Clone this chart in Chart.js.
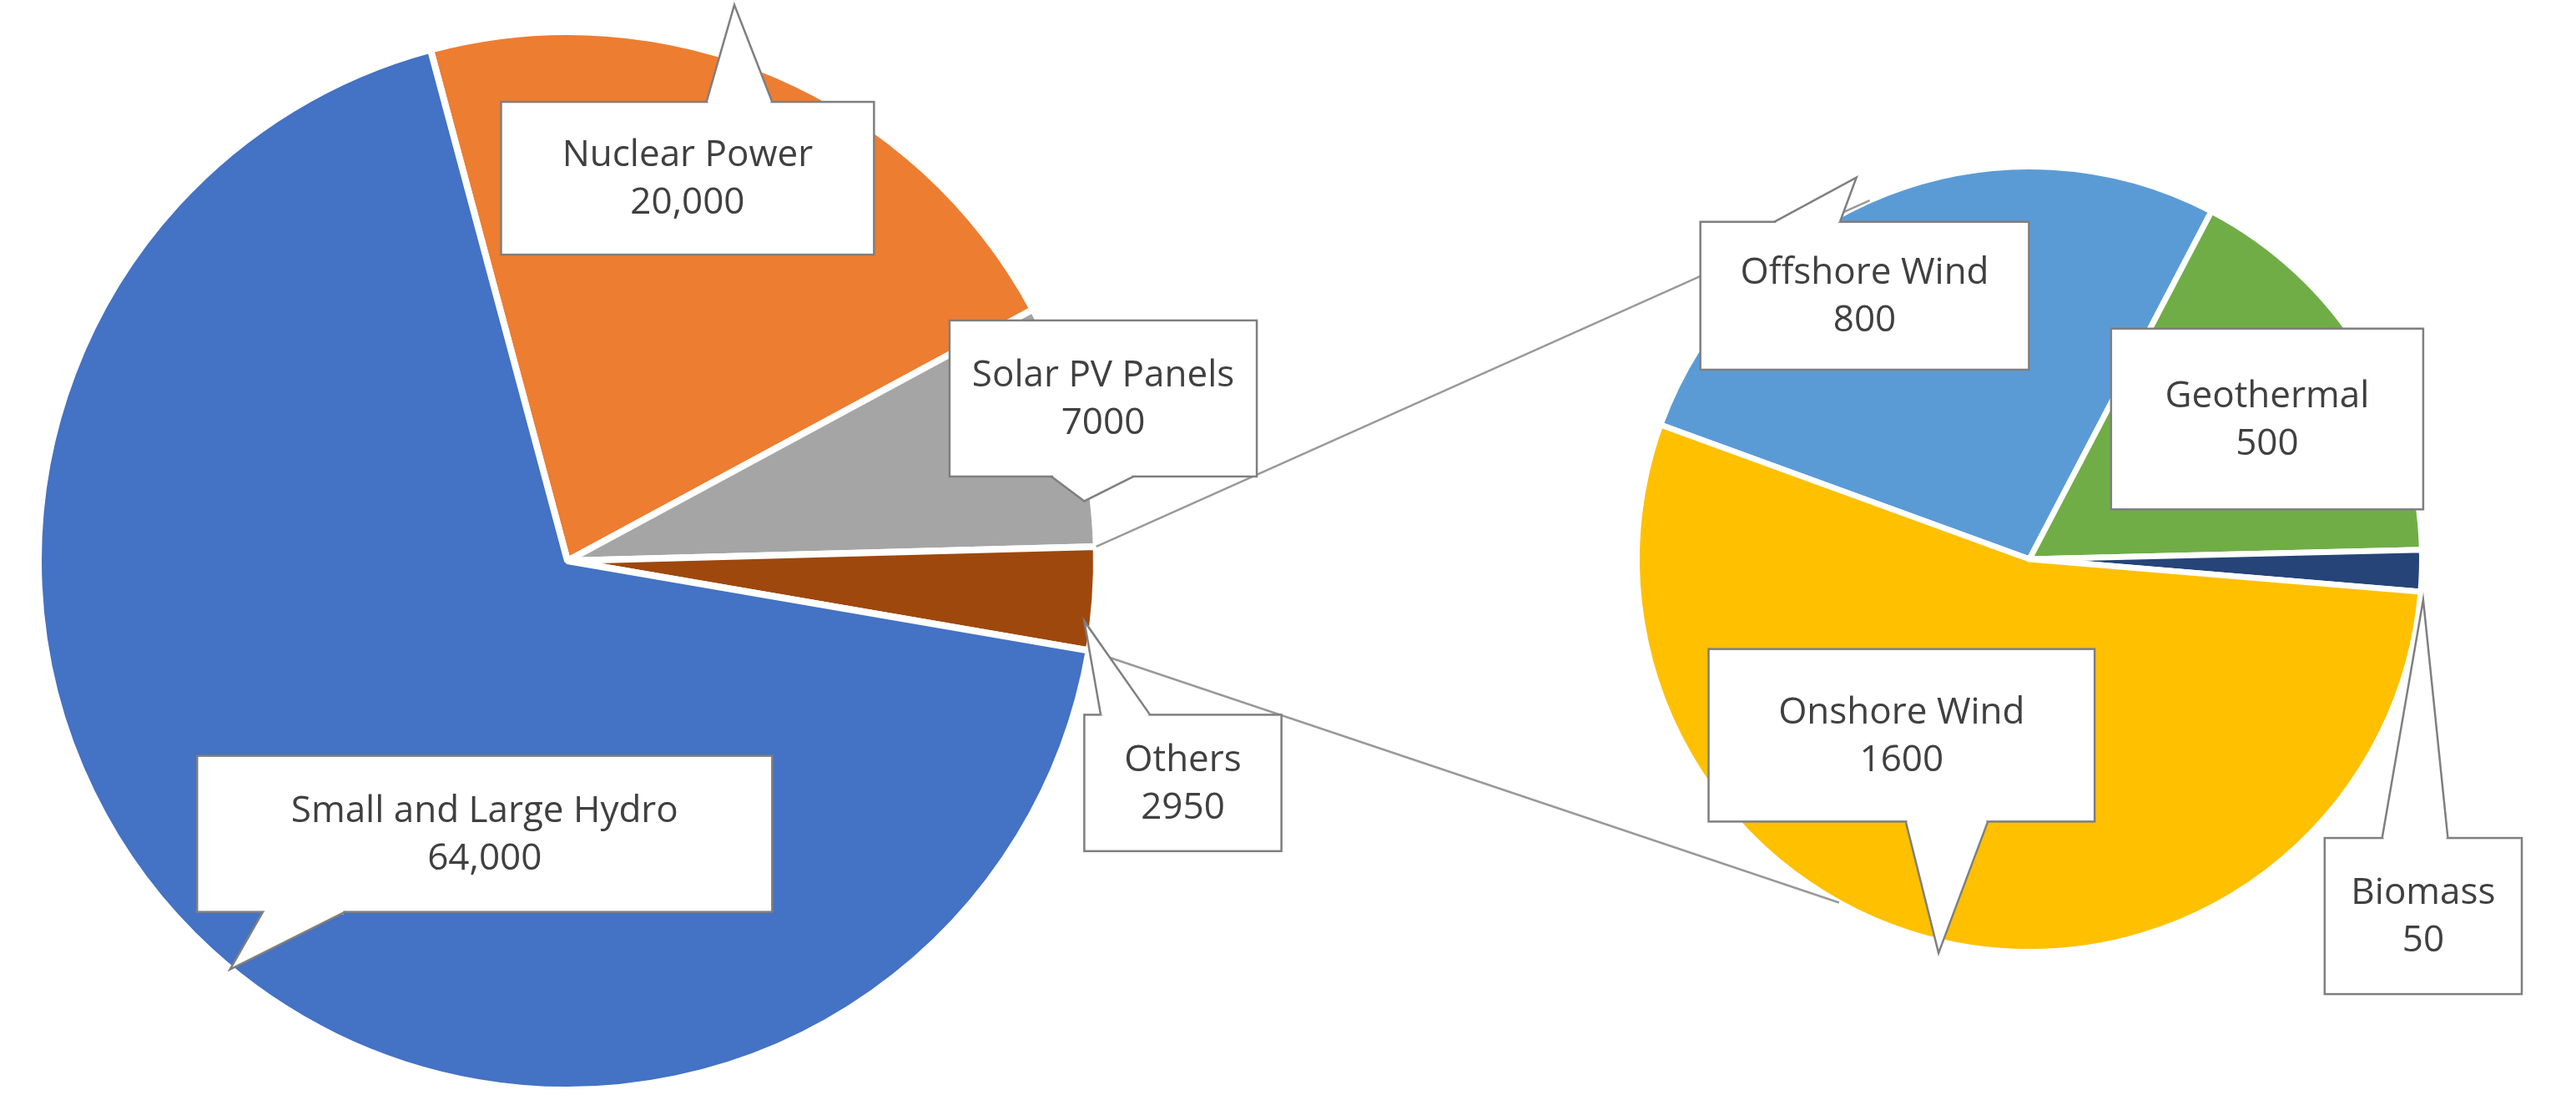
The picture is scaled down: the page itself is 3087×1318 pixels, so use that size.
<!DOCTYPE html>
<html><head><meta charset="utf-8">
<script src="https://cdn.jsdelivr.net/npm/chart.js@4/dist/chart.umd.min.js"></script>
<style>
body{margin:0;background:#fff;width:3087px;height:1318px;overflow:hidden;position:relative}
canvas{position:absolute}
</style></head><body>
<canvas id="main" width="1360" height="1318" style="left:0;top:0"></canvas>
<canvas id="sub" width="1000" height="1000" style="left:1932px;top:170px"></canvas>
<canvas id="over" width="3087" height="1318" style="left:0;top:0;pointer-events:none"></canvas>
<script>
// main pie
const mainLabels = ['Nuclear Power', 'Solar PV Panels', 'Others', 'Small and Large Hydro'];
const mainValues = [20000, 7000, 2950, 64000];
const mainText = ['20,000', '7000', '2950', '64,000'];
const mainColors = ['#ED7D31', '#A5A5A5', '#9E480E', '#4472C4'];
// breakdown of "Others"
const subLabels = ['Offshore Wind', 'Geothermal', 'Biomass', 'Onshore Wind'];
const subValues = [800, 500, 50, 1600];
const subColors = ['#5B9BD5', '#70AD47', '#264478', '#FFC000'];

const S = 3087 / 1568;
// callout boxes: [x1,y1,x2,y2, tipX,tipY, baseA, baseB] in reference units
const callouts = [
  {l: 'Nuclear Power', v: '20,000', b: [305, 62, 532, 155], tip: [447, 3], base: [[430, 62], [470, 62]]},
  {l: 'Solar PV Panels', v: '7000', b: [578, 195, 765, 290], tip: [660, 305], base: [[640, 290], [690, 290]]},
  {l: 'Others', v: '2950', b: [660, 435, 780, 518], tip: [660, 378], base: [[670, 435], [700, 435]]},
  {l: 'Small and Large Hydro', v: '64,000', b: [120, 460, 470, 555], tip: [140, 590], base: [[160, 555], [210, 555]]},
  {l: 'Offshore Wind', v: '800', b: [1035, 135, 1235, 225], tip: [1130, 108], base: [[1080, 135], [1120, 135]]},
  {l: 'Geothermal', v: '500', b: [1285, 200, 1475, 310], tip: null},
  {l: 'Onshore Wind', v: '1600', b: [1040, 395, 1275, 500], tip: [1180, 580], base: [[1160, 500], [1210, 500]]},
  {l: 'Biomass', v: '50', b: [1415, 510, 1535, 605], tip: [1475, 365], base: [[1450, 510], [1490, 510]]}
];

Chart.defaults.font.family = '"Open Sans", "Liberation Sans", sans-serif';

const mainChart = new Chart('main', {
  type: 'pie',
  data: {labels: mainLabels, datasets: [{data: mainValues, backgroundColor: mainColors, borderColor: '#fff', borderWidth: 8}]},
  options: {
    responsive: false, animation: false, devicePixelRatio: 1, rotation: -15,
    layout: {padding: {top: 34, bottom: 8, left: 30, right: 30}},
    plugins: {legend: {display: false}, tooltip: {enabled: false}}
  }
});

const overlay = {
  id: 'overlay',
  afterDraw(chart) {
    const ctx = document.getElementById('over').getContext('2d');
    ctx.clearRect(0, 0, 3087, 1318);
    // connector lines from the Others slice to the breakdown pie
    const arc = mainChart.getDatasetMeta(0).data[2];
    const sa = chart.getDatasetMeta(0).data[0];
    const cx = 1932 + sa.x, cy = 170 + sa.y, r = sa.outerRadius;
    const pts = [[arc.startAngle, -114], [arc.endAngle, 119]];
    ctx.strokeStyle = '#999'; ctx.lineWidth = 2.5;
    pts.forEach(([a, b]) => {
      const rad = b * Math.PI / 180;
      ctx.beginPath();
      ctx.moveTo(arc.x + arc.outerRadius * Math.cos(a), arc.y + arc.outerRadius * Math.sin(a));
      ctx.lineTo(cx + r * Math.cos(rad), cy + r * Math.sin(rad));
      ctx.stroke();
    });
    // callouts
    ctx.font = '44px "Open Sans", "Liberation Sans", sans-serif';
    ctx.textAlign = 'center'; ctx.textBaseline = 'middle';
    callouts.forEach(c => {
      const [x1, y1, x2, y2] = c.b.map(v => v * S);
      ctx.fillStyle = '#fff'; ctx.strokeStyle = '#7f7f7f'; ctx.lineWidth = 2.5;
      ctx.fillRect(x1, y1, x2 - x1, y2 - y1);
      ctx.strokeRect(x1, y1, x2 - x1, y2 - y1);
      if (c.tip) {
        const [ax, ay] = c.base[0].map(v => v * S), [bx, by] = c.base[1].map(v => v * S);
        const tx = c.tip[0] * S, ty = c.tip[1] * S;
        ctx.beginPath(); ctx.moveTo(ax, ay); ctx.lineTo(tx, ty); ctx.lineTo(bx, by); ctx.closePath();
        ctx.fill();
        ctx.fillRect(Math.min(ax, bx) + 2, ay - 3, Math.abs(bx - ax) - 4, 6);
        ctx.beginPath(); ctx.moveTo(ax, ay); ctx.lineTo(tx, ty); ctx.lineTo(bx, by); ctx.stroke();
      }
      const mx = (x1 + x2) / 2, my = (y1 + y2) / 2;
      ctx.fillStyle = '#404040';
      ctx.fillText(c.l, mx, my - 27);
      ctx.fillText(c.v, mx, my + 30);
    });
  }
};

new Chart('sub', {
  type: 'pie',
  data: {labels: subLabels, datasets: [{data: subValues, backgroundColor: subColors, borderColor: '#fff', borderWidth: 7}]},
  options: {
    responsive: false, animation: false, devicePixelRatio: 1, rotation: -70,
    layout: {padding: 26},
    plugins: {legend: {display: false}, tooltip: {enabled: false}}
  },
  plugins: [overlay]
});
</script>
</body></html>
